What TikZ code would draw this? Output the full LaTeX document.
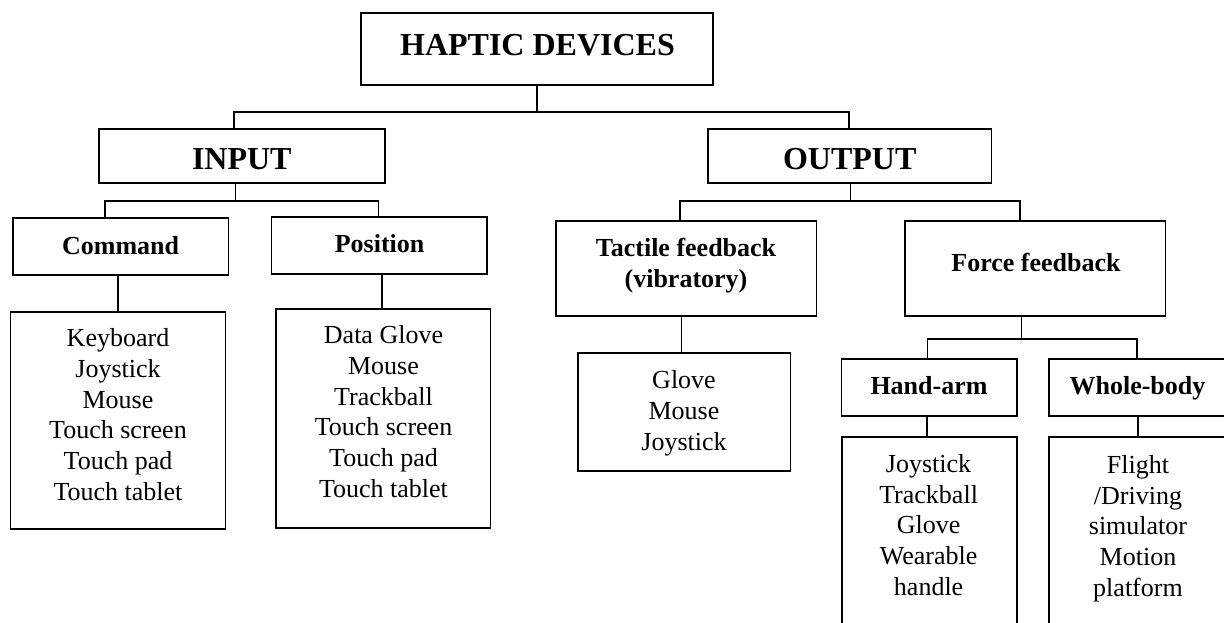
\documentclass[tikz,border=0pt]{standalone}
\usepackage{fontspec}
\setmainfont{Liberation Serif}
\begin{document}
\tikzset{
 box/.style={draw, line width=1.5pt, inner sep=0pt, rectangle},
 hdr/.style={font=\bfseries\fontsize{32}{38}\selectfont, inner sep=0pt, anchor=base},
 sub/.style={font=\bfseries\fontsize{26}{30.7}\selectfont, inner sep=0pt},
 lst/.style={font=\fontsize{26}{30.7}\selectfont, inner sep=0pt, align=center, anchor=north},
 con/.style={line width=1.5pt}
}
\begin{tikzpicture}[x=1pt,y=-1pt]
\useasboundingbox (0,0) rectangle (1224,622);
\clip (0,0) rectangle (1224,622);
% boxes
\node[box, minimum width=352pt, minimum height=72pt] (hd) at (537,49) {};
\node[box, minimum width=286pt, minimum height=54pt] (inp) at (242,156) {};
\node[box, minimum width=283.5pt, minimum height=54pt] (out) at (849.75,156) {};
\node[box, minimum width=215.5pt, minimum height=57pt] (cmd) at (120.5,246.5) {};
\node[box, minimum width=215.5pt, minimum height=57pt] (pos) at (379.3,245.5) {};
\node[box, minimum width=260.3pt, minimum height=95pt] (tac) at (686.2,268.5) {};
\node[box, minimum width=260.4pt, minimum height=95pt] (frc) at (1035.2,268.5) {};
\node[box, minimum width=175.5pt, minimum height=57pt] (ha) at (929.25,387.5) {};
\node[box, minimum width=179pt, minimum height=57pt] (wb) at (1138.5,387.5) {};
\node[box, minimum width=214.7pt, minimum height=217pt] (cmdL) at (118,420.5) {};
\node[box, minimum width=214.3pt, minimum height=219pt] (posL) at (383.2,418.5) {};
\node[box, minimum width=212.6pt, minimum height=118pt] (tacL) at (684.3,412) {};
\node[box, minimum width=175pt, minimum height=203pt] (haL) at (929.5,538.5) {};
\node[box, minimum width=179pt, minimum height=203pt] (wbL) at (1138.5,538.5) {};
% header texts
\node[hdr] (hdT) at (537.5,55.4) {HAPTIC DEVICES};
\node[hdr] (inpT) at (241.8,169) {INPUT};
\node[hdr] (outT) at (849.7,169) {OUTPUT};
\node[sub, anchor=base] (cmdH) at (120.6,254.1) {Command};
\node[sub, anchor=base] (posH) at (379.6,252.6) {Position};
\node[sub, align=center, anchor=north] (tacH) at (686,235.1) {\strut Tactile feedback\\(vibratory)};
\node[sub, anchor=base] (frcH) at (1036,271.6) {Force feedback};
\node[sub, anchor=base] (haH) at (929,394.6) {Hand-arm};
\node[sub, anchor=base] (wbH) at (1137.5,394.6) {Whole-body};
% list texts
\node[lst] (cmdT) at (118,325.1) {\strut Keyboard\\Joystick\\Mouse\\Touch screen\\Touch pad\\Touch tablet};
\node[lst] (posT) at (383.5,322.1) {\strut Data Glove\\Mouse\\Trackball\\Touch screen\\Touch pad\\Touch tablet};
\node[lst] (tacT) at (684,367.1) {\strut Glove\\Mouse\\Joystick};
\node[lst] (haT) at (928.6,450.6) {\strut Joystick\\Trackball\\Glove\\Wearable\\handle};
\node[lst] (wbT) at (1138,451.6) {\strut Flight\\/Driving\\simulator\\Motion\\platform};
% connectors
\draw[con] (hd.south) -- ++(0,26) coordinate (b1);
\draw[con] ([xshift=-8pt]inp.north) |- (b1) -| ([xshift=-1pt]out.north);
\draw[con] ([xshift=-6.7pt]inp.south) -- ++(0,17) coordinate (b2);
\draw[con] ([xshift=-15.5pt]cmd.north) |- (b2) -| ([xshift=-1pt]pos.north);
\draw[con] ([xshift=0.5pt]out.south) -- ++(0,17) coordinate (b3);
\draw[con] ([xshift=-6pt]tac.north) |- (b3) -| ([xshift=-15pt]frc.north);
\draw[con] (cmdL.north) -- (cmdL.north |- cmd.south);
\draw[con] ([xshift=-1pt]posL.north) -- ([xshift=-1pt]posL.north |- pos.south);
\draw[con] ([xshift=-3pt]tacL.north) -- ([xshift=-3pt]tacL.north |- tac.south);
\draw[con] ([xshift=-13.7pt]frc.south) -- ++(0,22) coordinate (b4);
\draw[con] ([xshift=-2pt]ha.north) |- (b4) -| ([xshift=-1.5pt]wb.north);
\draw[con] ([xshift=-2.5pt]haL.north) -- ([xshift=-2.5pt]haL.north |- ha.south);
\draw[con] ([xshift=-0.5pt]wbL.north) -- ([xshift=-0.5pt]wbL.north |- wb.south);
\end{tikzpicture}
\end{document}
